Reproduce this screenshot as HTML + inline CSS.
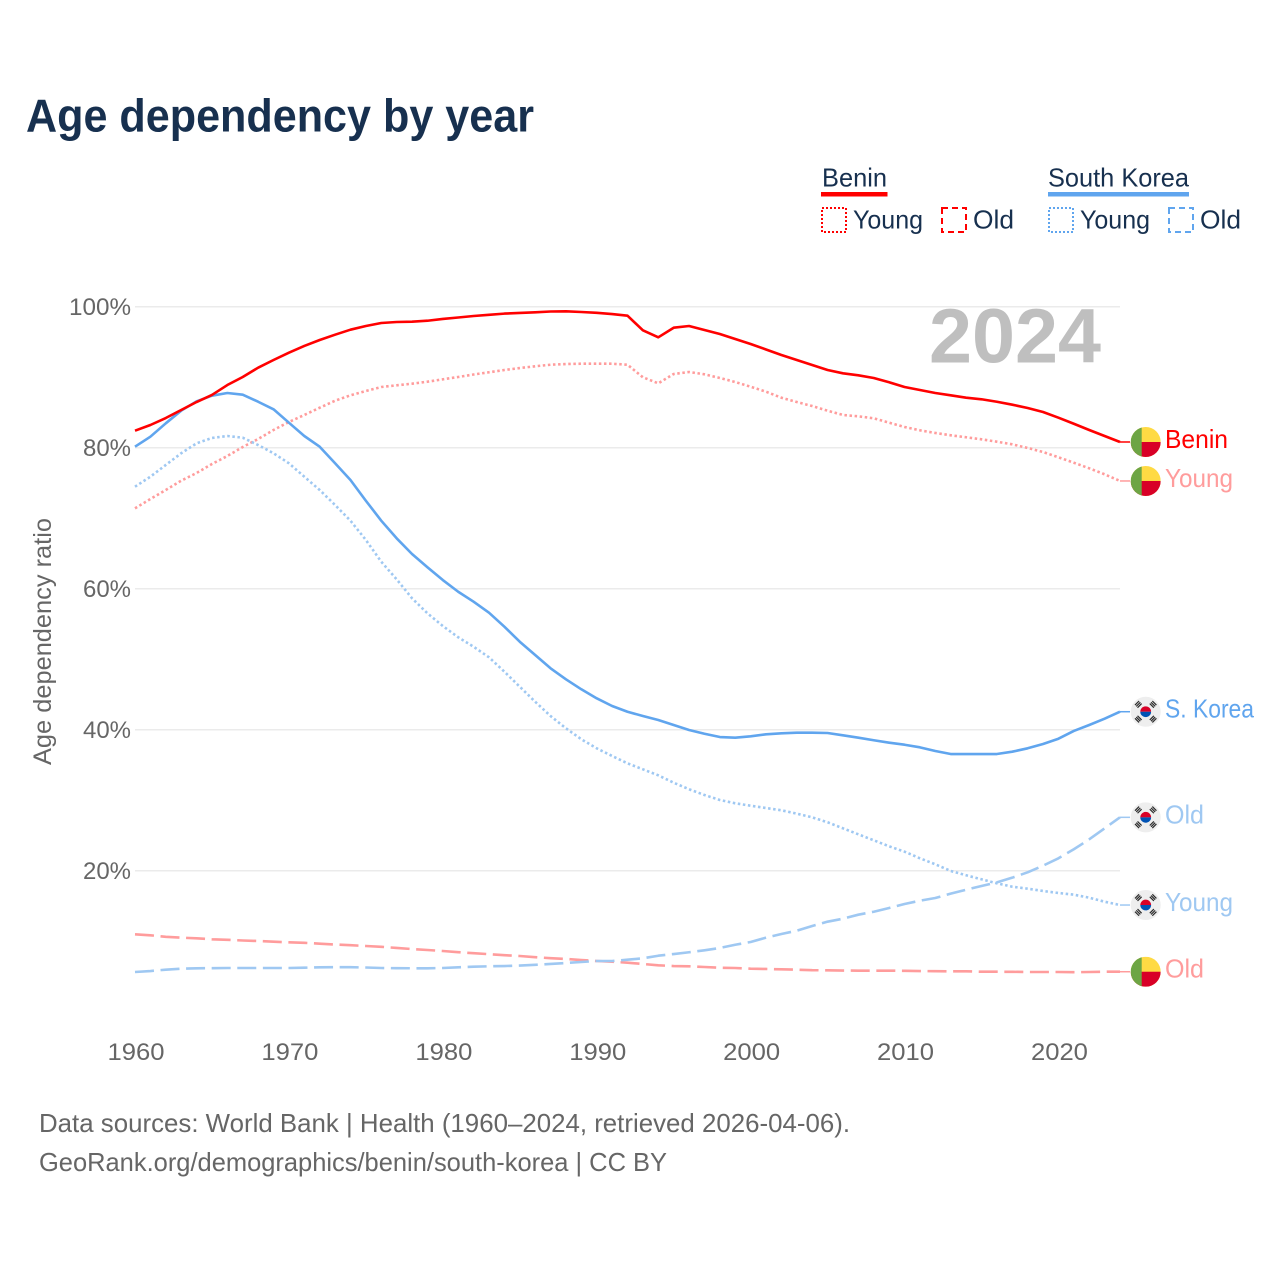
<!DOCTYPE html>
<html lang="en">
<head>
<meta charset="utf-8">
<title>Age dependency by year</title>
<style>
html,body{margin:0;padding:0;background:#fff;}
svg{display:block;}
text{font-family:"Liberation Sans",sans-serif;}
</style>
</head>
<body>
<svg id="chart" xmlns="http://www.w3.org/2000/svg" width="1280" height="1280" viewBox="0 0 1280 1280">
  <defs>
    <clipPath id="flag-clip"><circle cx="0" cy="0" r="15"/></clipPath>
    <g id="flag-benin" clip-path="url(#flag-clip)">
      <rect x="-15" y="-15" width="30" height="30" fill="#ffda44"/>
      <rect x="-15" y="0" width="30" height="15" fill="#d80027"/>
      <rect x="-15" y="-15" width="11" height="30" fill="#6da544"/>
    </g>
    <g id="trigram">
      <rect x="-2.9" y="-2.4" width="5.8" height="1.2" fill="#2a2a2a"/>
      <rect x="-2.9" y="-0.6" width="5.8" height="1.2" fill="#2a2a2a"/>
      <rect x="-2.9" y="1.2" width="5.8" height="1.2" fill="#2a2a2a"/>
    </g>
    <g id="flag-korea">
      <circle cx="0" cy="0" r="15" fill="#eeeeee"/>
      <path d="M-5.4 0A5.4 5.4 0 0 1 5.4 0Z" fill="#d80027"/>
      <path d="M-5.4 0A5.4 5.4 0 0 0 5.4 0Z" fill="#0052b4"/>
      <use href="#trigram" transform="translate(-7.4,-7.4) rotate(-45)"/>
      <use href="#trigram" transform="translate(7.4,-7.4) rotate(45)"/>
      <use href="#trigram" transform="translate(-7.4,7.4) rotate(45)"/>
      <use href="#trigram" transform="translate(7.4,7.4) rotate(-45)"/>
    </g>
  </defs>

  <text x="26" y="131.5" font-size="46" font-weight="700" fill="#17304f" textLength="508" lengthAdjust="spacingAndGlyphs">Age dependency by year</text>

  <g>
    <g>
      <text x="822" y="186.5" font-size="26" fill="#17304f" textLength="65" lengthAdjust="spacingAndGlyphs">Benin</text>
      <rect x="821" y="192" width="66.5" height="4.5" fill="#ff0000"/>
      <rect x="822" y="208" width="24" height="24" fill="none" stroke="#ff0000" stroke-width="2" stroke-dasharray="2 2"/>
      <text x="853" y="228.5" font-size="26" fill="#17304f" textLength="70" lengthAdjust="spacingAndGlyphs">Young</text>
      <rect x="942" y="208" width="24" height="24" fill="none" stroke="#ff0000" stroke-width="2" stroke-dasharray="6 4"/>
      <text x="973" y="228.5" font-size="26" fill="#17304f" textLength="41" lengthAdjust="spacingAndGlyphs">Old</text>
    </g>
    <g>
      <text x="1048" y="186.5" font-size="26" fill="#17304f" textLength="141" lengthAdjust="spacingAndGlyphs">South Korea</text>
      <rect x="1048" y="192" width="141" height="4.5" fill="#60a5ee"/>
      <rect x="1049" y="208" width="24" height="24" fill="none" stroke="#60a5ee" stroke-width="2" stroke-dasharray="2 2"/>
      <text x="1080" y="228.5" font-size="26" fill="#17304f" textLength="70" lengthAdjust="spacingAndGlyphs">Young</text>
      <rect x="1169" y="208" width="24" height="24" fill="none" stroke="#60a5ee" stroke-width="2" stroke-dasharray="6 4"/>
      <text x="1200" y="228.5" font-size="26" fill="#17304f" textLength="41" lengthAdjust="spacingAndGlyphs">Old</text>
    </g>
  </g>

  <text transform="translate(51,765) rotate(-90)" font-size="25" fill="#666666" textLength="247" lengthAdjust="spacingAndGlyphs">Age dependency ratio</text>

  <g id="grid-layer"></g>
  <g id="tick-layer"></g>

  <text x="929" y="362.5" font-size="77" font-weight="700" fill="#bfbfbf" textLength="172" lengthAdjust="spacingAndGlyphs">2024</text>

  <g id="series-layer"></g>
  <g id="end-layer"></g>

  <text x="39" y="1132" font-size="26" fill="#666666" textLength="811" lengthAdjust="spacingAndGlyphs">Data sources: World Bank | Health (1960–2024, retrieved 2026-04-06).</text>
  <a><text x="39" y="1171" font-size="26" fill="#666666" textLength="628" lengthAdjust="spacingAndGlyphs">GeoRank.org/demographics/benin/south-korea | CC BY</text></a>
</svg>

<script>
const years = [1960,1961,1962,1963,1964,1965,1966,1967,1968,1969,1970,1971,1972,1973,1974,1975,1976,1977,1978,1979,1980,1981,1982,1983,1984,1985,1986,1987,1988,1989,1990,1991,1992,1993,1994,1995,1996,1997,1998,1999,2000,2001,2002,2003,2004,2005,2006,2007,2008,2009,2010,2011,2012,2013,2014,2015,2016,2017,2018,2019,2020,2021,2022,2023,2024];

const beninTotal = [82.41,83.22,84.21,85.35,86.48,87.48,88.89,90.03,91.35,92.44,93.48,94.43,95.28,96.03,96.74,97.26,97.69,97.83,97.87,98.01,98.26,98.47,98.68,98.85,99.02,99.11,99.2,99.32,99.35,99.25,99.13,98.96,98.72,96.65,95.66,97.02,97.26,96.7,96.13,95.42,94.71,93.93,93.15,92.44,91.73,91.02,90.55,90.27,89.89,89.28,88.61,88.18,87.76,87.43,87.09,86.87,86.52,86.1,85.63,85.06,84.26,83.4,82.51,81.66,80.81];

const beninYoung = [71.4,72.72,74.0,75.32,76.41,77.69,78.82,80.1,81.23,82.51,83.65,84.64,85.67,86.67,87.43,88.04,88.61,88.85,89.08,89.36,89.7,90.03,90.38,90.7,91.02,91.3,91.55,91.77,91.87,91.91,91.91,91.91,91.77,89.99,89.13,90.45,90.74,90.41,89.89,89.32,88.65,87.94,87.09,86.48,85.91,85.25,84.64,84.45,84.17,83.55,82.94,82.47,82.09,81.76,81.48,81.19,80.85,80.48,79.96,79.39,78.64,77.87,77.08,76.23,75.28];

const beninOld = [10.98,10.84,10.62,10.5,10.41,10.27,10.2,10.1,10.03,9.93,9.84,9.77,9.65,9.53,9.43,9.32,9.21,9.04,8.89,8.75,8.61,8.44,8.3,8.16,8.01,7.9,7.73,7.59,7.48,7.33,7.19,7.09,6.95,6.77,6.58,6.48,6.44,6.34,6.24,6.2,6.1,6.06,6.01,5.96,5.89,5.87,5.84,5.82,5.82,5.82,5.8,5.77,5.74,5.73,5.73,5.67,5.67,5.66,5.63,5.63,5.63,5.6,5.63,5.67,5.67];

const koreaTotal = [80.14,81.56,83.46,85.25,86.58,87.38,87.76,87.52,86.52,85.45,83.55,81.66,80.14,77.79,75.42,72.48,69.65,67.15,64.92,63.04,61.23,59.57,58.16,56.6,54.61,52.48,50.6,48.71,47.15,45.73,44.45,43.36,42.55,41.94,41.38,40.67,39.96,39.43,38.96,38.87,39.06,39.35,39.49,39.57,39.57,39.53,39.2,38.87,38.5,38.16,37.87,37.5,36.98,36.55,36.55,36.55,36.55,36.88,37.36,37.97,38.72,39.82,40.67,41.56,42.55];

const koreaYoung = [74.47,75.89,77.55,79.21,80.62,81.38,81.66,81.42,80.38,79.21,77.79,75.89,74.0,71.87,69.65,66.91,63.83,61.33,58.64,56.51,54.71,53.11,51.77,50.27,48.23,46.1,43.97,41.94,40.2,38.64,37.36,36.27,35.23,34.38,33.53,32.48,31.55,30.74,30.03,29.56,29.22,28.89,28.57,28.09,27.57,26.87,26.01,25.16,24.31,23.46,22.7,21.76,20.91,19.96,19.35,18.78,18.21,17.73,17.45,17.12,16.84,16.6,16.17,15.6,15.13];

const koreaOld = [5.63,5.77,5.96,6.1,6.16,6.17,6.2,6.2,6.2,6.2,6.2,6.24,6.3,6.31,6.31,6.27,6.2,6.17,6.16,6.16,6.2,6.3,6.38,6.44,6.48,6.55,6.65,6.77,6.91,7.05,7.19,7.19,7.38,7.57,7.94,8.18,8.43,8.71,9.04,9.5,9.89,10.5,11.02,11.49,12.16,12.77,13.19,13.76,14.18,14.71,15.28,15.74,16.13,16.74,17.3,17.83,18.35,19.01,19.77,20.71,21.76,23.04,24.45,26.01,27.57];

const yTicks = [100,80,60,40,20];
const yTickLabels = ['100%','80%','60%','40%','20%'];
const xTicks = [1960,1970,1980,1990,2000,2010,2020];
const xTickLabels = ['1960','1970','1980','1990','2000','2010','2020'];

const NS = 'http://www.w3.org/2000/svg';
function xScale(year){ return 135 + (year - 1960) * (985 / 64); }
function yScale(value){ return 1011.7 - value * 7.05; }

function svgEl(tag, attrs, parent){
  const el = document.createElementNS(NS, tag);
  for (const k in attrs) el.setAttribute(k, attrs[k]);
  parent.appendChild(el);
  return el;
}

const gridLayer = document.getElementById('grid-layer');
const tickLayer = document.getElementById('tick-layer');
const seriesLayer = document.getElementById('series-layer');
const endLayer = document.getElementById('end-layer');

yTicks.forEach(function(v, i){
  const line = svgEl('line', {x1: 135, x2: 1120, y1: yScale(v), y2: yScale(v), stroke: '#ebebeb', 'stroke-width': 1.5}, gridLayer);
  
  
  const label = svgEl('text', {x: 131, y: yScale(v) + 8.2, 'text-anchor': 'end', 'font-size': 24, fill: '#666666', textLength: yTickLabels[i].length === 4 ? 62 : 48, lengthAdjust: 'spacingAndGlyphs'}, tickLayer);
  label.textContent = yTickLabels[i];
  
  
});

xTicks.forEach(function(t, i){
  const label = svgEl('text', {x: xScale(t) + 1, y: 1060, 'text-anchor': 'middle', 'font-size': 24, fill: '#666666', textLength: 57, lengthAdjust: 'spacingAndGlyphs'}, tickLayer);
  label.textContent = xTickLabels[i];
  
  
});

const seriesList = [
  {key: 'benin-old', values: beninOld, color: '#ff9c9c', dash: '19 6.6', label: 'Old', len: 39, flag: '#flag-benin'},
  {key: 'korea-old', values: koreaOld, color: '#9fc8f2', dash: '19 6.6', label: 'Old', len: 39, flag: '#flag-korea'},
  {key: 'benin-young', values: beninYoung, color: '#ff9c9c', dash: '2.5 2.6', label: 'Young', len: 68, flag: '#flag-benin'},
  {key: 'korea-young', values: koreaYoung, color: '#9fc8f2', dash: '2.5 2.6', label: 'Young', len: 68, flag: '#flag-korea'},
  {key: 'korea-total', values: koreaTotal, color: '#60a5ee', dash: '', label: 'S. Korea', len: 89, flag: '#flag-korea'},
  {key: 'benin-total', values: beninTotal, color: '#ff0000', dash: '', label: 'Benin', len: 63, flag: '#flag-benin'}
];

seriesList.forEach(function(s){
  const d = s.values.map(function(v, i){
    return (i ? 'L' : 'M') + xScale(years[i]).toFixed(2) + ' ' + yScale(v).toFixed(2);
  }).join(' ');
  const attrs = {d: d, fill: 'none', stroke: s.color, 'stroke-width': 2.6, 'stroke-linejoin': 'round'};
  if (s.dash) attrs['stroke-dasharray'] = s.dash;
  const path = svgEl('path', attrs, seriesLayer);
  
  

  const lastX = xScale(years[years.length - 1]);
  const lastY = yScale(s.values[s.values.length - 1]);
  const connector = svgEl('line', {x1: lastX, x2: lastX + 10, y1: lastY, y2: lastY, stroke: s.color, 'stroke-width': 1.5}, endLayer);
  
  

  const flag = svgEl('use', {href: s.flag, transform: 'translate(' + (lastX + 25.7) + ',' + lastY + ')'}, endLayer);
  
  

  const label = svgEl('text', {x: lastX + 45, y: lastY + 6, 'font-size': 26, fill: s.color, textLength: s.len, lengthAdjust: 'spacingAndGlyphs'}, endLayer);
  label.textContent = s.label;
  
  
});
</script>
</body>
</html>
